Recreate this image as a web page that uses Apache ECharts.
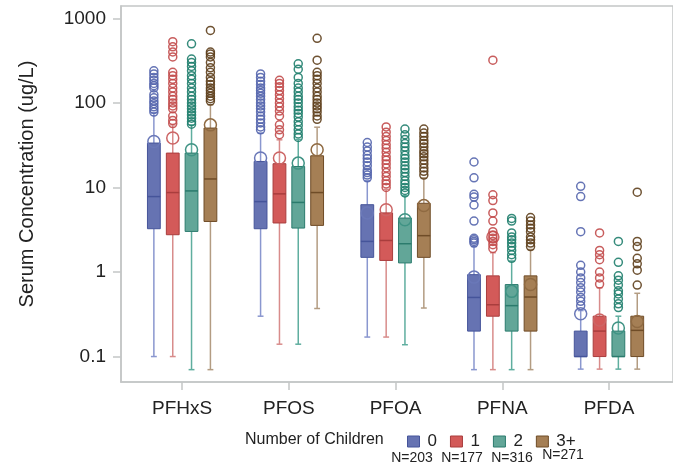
<!DOCTYPE html>
<html>
<head>
<meta charset="utf-8">
<script src="https://cdn.jsdelivr.net/npm/echarts@6/dist/echarts.min.js"></script>
<style>
  html, body { margin: 0; padding: 0; background: #fff; }
  #chart { width: 673px; height: 467px; }
</style>
</head>
<body>
<div id="chart"></div>
<script>
// Compounds on the x axis and groups (number of children)
const compounds = ['PFHxS', 'PFOS', 'PFOA', 'PFNA', 'PFDA'];
const groupNames = ['0', '1', '2', '3+'];
const groupSizes = [203, 177, 316, 271];
const yTicks = [0.1, 1, 10, 100, 1000];

// Per compound: [lower whisker, Q1, median, Q3, upper whisker, mean]
const stats0 = [
  [0.10, 3.25, 7.8, 33.5, 76, 35],
  [0.30, 3.25, 6.8, 20.3, 44, 22.3],
  [0.17, 1.49, 2.3, 6.25, 12, 5.0],
  [0.07, 0.20, 0.50, 0.93, 2.0, 0.87],
  [0.071, 0.10, 0.10, 0.20, 0.35, 0.32]
];
const stats1 = [
  [0.10, 2.76, 8.7, 25.5, 55, 38.4],
  [0.14, 3.8, 8.4, 19.1, 36.6, 22.3],
  [0.17, 1.37, 2.36, 5.0, 9.5, 5.45],
  [0.07, 0.30, 0.41, 0.90, 1.69, 2.6],
  [0.071, 0.10, 0.20, 0.30, 0.65, 0.27]
];
const stats2 = [
  [0.07, 3.02, 9.1, 25.5, 55, 27.9],
  [0.14, 3.31, 6.65, 17.7, 37, 19.4],
  [0.138, 1.28, 2.16, 4.35, 8.0, 4.15],
  [0.07, 0.20, 0.40, 0.71, 1.35, 0.59],
  [0.071, 0.10, 0.10, 0.20, 0.30, 0.218]
];
const stats3 = [
  [0.07, 3.96, 12.6, 50.4, 95, 55],
  [0.37, 3.56, 8.7, 23.7, 51.6, 27.9],
  [0.375, 1.49, 2.69, 6.5, 13, 6.1],
  [0.07, 0.20, 0.506, 0.90, 1.85, 0.71],
  [0.071, 0.10, 0.204, 0.30, 0.56, 0.26]
];

// Outlying observations per compound
const outliers0 = [
  [240, 220, 200, 185, 170, 160, 150, 125, 115, 105, 98, 90, 84, 78],
  [220, 200, 180, 165, 150, 140, 130, 120, 110, 100, 92, 85, 78, 70, 64, 58, 52, 48],
  [34, 30, 27, 24, 22, 20, 18, 16, 15, 14, 13],
  [20, 13, 8.3, 7.7, 6.2, 4.0, 2.5, 2.4, 2.3, 2.2],
  [10.3, 7.8, 3.0, 1.2, 1.0, 0.85, 0.75, 0.65, 0.58, 0.5, 0.45, 0.4]
];
const outliers1 = [
  [530, 460, 400, 350, 230, 210, 190, 170, 150, 135, 120, 110, 100, 92, 85, 70, 62, 57],
  [185, 170, 155, 140, 125, 112, 100, 90, 80, 70, 55, 48, 42],
  [52, 45, 40, 36, 32, 29, 26, 23, 21, 19, 17, 15, 13.5, 12, 11, 10],
  [320, 8.2, 7.0, 5.0, 4.0, 3.0, 2.7, 2.5, 2.3, 2.1, 1.9],
  [2.9, 1.8, 1.6, 1.4, 1.0, 0.85, 0.72]
];
const outliers2 = [
  [500, 330, 300, 270, 240, 210, 190, 170, 150, 135, 120, 110, 100, 92, 85, 78, 72, 66, 60, 56],
  [290, 250, 200, 170, 150, 135, 120, 110, 100, 90, 82, 75, 68, 60, 54, 48, 43, 39],
  [49, 42, 37, 33, 30, 27, 24, 22, 20, 18, 16.5, 15, 13.5, 12, 11, 10, 9.2, 8.6],
  [4.3, 4.0, 2.9, 2.6, 2.4, 2.2, 2.0, 1.8, 1.6, 1.45],
  [2.3, 1.3, 0.9, 0.8, 0.7, 0.6, 0.55, 0.48, 0.42, 0.38]
];
const outliers3 = [
  [720, 400, 380, 350, 300, 260, 230, 200, 180, 165, 150, 140, 130, 120, 112, 105],
  [580, 320, 230, 210, 190, 170, 150, 135, 120, 110, 100, 92, 85, 78, 70, 64],
  [49, 44, 40, 36, 33, 30, 27, 25, 23, 21, 19, 17, 15.5, 14],
  [4.4, 4.0, 3.6, 3.3, 3.0, 2.6, 2.4, 2.2, 2.0],
  [8.8, 2.3, 2.0, 1.45, 1.25, 1.05, 0.7]
];

const allStats = [stats0, stats1, stats2, stats3];
const allOutliers = [outliers0, outliers1, outliers2, outliers3];

// Styling
const FONT = "'Liberation Sans', Arial, sans-serif";
const fills   = ['#6673b2', '#d35a59', '#62a698', '#a57f55'];
const borders = ['#45549a', '#a93d3d', '#2b7b6d', '#6f4c27'];
const whiskerColors = ['#8a97cf', '#d88c8b', '#5fae9f', '#b39c82'];
const meanColors = ['#6a78b8', '#cc6565', '#3f9384', '#8f6a42'];
const outlierColors = ['#5465ad', '#c24b4b', '#1f7e6d', '#5e3f1c'];
const groupOffsets = [-0.265, -0.088, 0.088, 0.265]; // in category units
const boxWidth = 0.12;
const capWidth = 0.055;

function boxSeries(g) {
  return {
    name: groupNames[g],
    type: 'custom',
    encode: { x: 0, y: [1, 2, 3, 4, 5, 6] },
    data: allStats[g].map((s, i) => [i].concat(s)),
    renderItem: function (params, api) {
      const idx = api.value(0);
      const unit = api.size([1, 1], [idx, 1])[0];
      const cx = api.coord([idx, 1])[0] + groupOffsets[g] * unit;
      const hw = boxWidth * unit / 2;
      const cw = capWidth * unit / 2;
      const y = (k) => api.coord([idx, api.value(k)])[1];
      const yLo = y(1), yQ1 = y(2), yMed = y(3), yQ3 = y(4), yHi = y(5), yMean = y(6);
      const wStyle = { stroke: whiskerColors[g], lineWidth: 1.5 };
      return {
        type: 'group',
        children: [
          { type: 'line', shape: { x1: cx, y1: yLo, x2: cx, y2: yQ1 }, style: wStyle },
          { type: 'line', shape: { x1: cx, y1: yQ3, x2: cx, y2: yHi }, style: wStyle },
          { type: 'line', shape: { x1: cx - cw, y1: yLo, x2: cx + cw, y2: yLo }, style: wStyle },
          { type: 'line', shape: { x1: cx - cw, y1: yHi, x2: cx + cw, y2: yHi }, style: wStyle },
          { type: 'rect', shape: { x: cx - hw, y: yQ3, width: 2 * hw, height: yQ1 - yQ3 },
            style: { fill: fills[g], stroke: borders[g], lineWidth: 1 } },
          { type: 'line', shape: { x1: cx - hw, y1: yMed, x2: cx + hw, y2: yMed },
            style: { stroke: borders[g], lineWidth: 1.5 } },
          { type: 'circle', shape: { cx: cx, cy: yMean, r: 6 },
            style: { fill: 'none', stroke: meanColors[g], lineWidth: 1.5 } }
        ]
      };
    },
    z: 2
  };
}

function outlierSeries(g) {
  const data = [];
  allOutliers[g].forEach((vals, i) => vals.forEach(v => data.push([i, v])));
  return {
    name: groupNames[g],
    type: 'custom',
    encode: { x: 0, y: 1 },
    data: data,
    renderItem: function (params, api) {
      const idx = api.value(0);
      const unit = api.size([1, 1], [idx, 1])[0];
      const p = api.coord([idx, api.value(1)]);
      return {
        type: 'circle',
        shape: { cx: p[0] + groupOffsets[g] * unit, cy: p[1], r: 4 },
        style: { fill: 'none', stroke: outlierColors[g], lineWidth: 1.5, opacity: 0.9 }
      };
    },
    z: 3
  };
}

const series = [];
for (let g = 0; g < 4; g++) series.push(boxSeries(g));
for (let g = 0; g < 4; g++) series.push(outlierSeries(g));

const sizeLabelX = [412, 462, 512, 563];

const chart = echarts.init(document.getElementById('chart'), null, { renderer: 'canvas' });
chart.setOption({
  backgroundColor: '#fff',
  animation: false,
  textStyle: { fontFamily: FONT },
  grid: {
    show: true, left: 121, top: 6, right: -5, bottom: 85,
    borderColor: '#c3c6c6', borderWidth: 1.5, backgroundColor: 'transparent'
  },
  xAxis: {
    type: 'value',
    min: -0.573, max: 4.6,
    axisLine: { show: true, onZero: false, lineStyle: { color: '#c3c6c6', width: 1.5 } },
    axisTick: { show: true, length: 8, lineStyle: { color: '#c3c6c6', width: 1.5 },
                customValues: [0, 1, 2, 3, 4] },
    axisLabel: { customValues: [0, 1, 2, 3, 4], margin: 17, fontSize: 19, color: '#222',
                 fontFamily: FONT, formatter: v => compounds[Math.round(v)] },
    splitLine: { show: false }
  },
  yAxis: {
    type: 'log',
    logBase: 10,
    min: 0.05, max: 1400,
    name: 'Serum Concentration (ug/L)',
    nameLocation: 'middle',
    nameGap: 84,
    nameTextStyle: { fontSize: 20, color: '#222', fontFamily: FONT, padding: [0, 0, 0, 20] },
    axisLine: { show: true, onZero: false, lineStyle: { color: '#c3c6c6', width: 1.5 } },
    axisTick: { show: true, length: 8, lineStyle: { color: '#c3c6c6', width: 1.5 },
                customValues: yTicks },
    axisLabel: { customValues: yTicks, margin: 15, fontSize: 19, color: '#222', fontFamily: FONT,
                 formatter: v => String(v) },
    splitLine: { show: false }
  },
  legend: {
    left: 402, top: 428,
    icon: 'rect', itemWidth: 12, itemHeight: 11, itemGap: 13,
    textStyle: { fontSize: 17, color: '#222', fontFamily: FONT, padding: [0, 0, 0, 3] },
    data: groupNames.map((n, g) => ({
      name: n,
      itemStyle: { color: fills[g], borderColor: borders[g], borderWidth: 1 }
    }))
  },
  graphic: [
    { type: 'text', left: 245, top: 432,
      style: { text: 'Number of Children', fontSize: 16, fill: '#222', fontFamily: FONT } }
  ].concat(groupSizes.map((n, g) => ({
    type: 'text', x: sizeLabelX[g], y: g === 3 ? 455 : 458,
    style: { text: 'N=' + n, fontSize: 14, fill: '#222', fontFamily: FONT,
             align: 'center', verticalAlign: 'middle' }
  }))),
  series: series
});
</script>
</body>
</html>
